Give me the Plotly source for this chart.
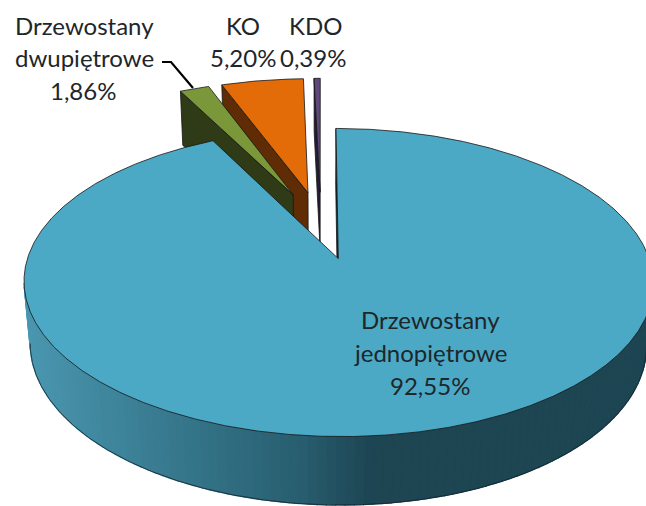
import numpy as np
import plotly.graph_objects as go

categories = ["Drzewostany jednopiętrowe", "Drzewostany dwupiętrowe", "KO", "KDO"]
values = [92.55, 1.86, 5.20, 0.39]
top_colors = ["#4BA9C5", "#7A983A", "#E36C09", "#5F497A"]
wall_colors = ["#14323C", "#2F3A16", "#5F2C05", "#241C38"]

# projection parameters of the tilted disc
W, H = 646, 506
CX, CY, A, B, K, DEPTH, M, EXPLODE = 321, 224.7, 300, 140, 0.15, 61.4, 0.02, 0.24


def project(u, v, bottom=False):
    w = 1 + K * v
    if bottom:
        w = w + M
        return CX + A * u / w, CY + (-B * v + DEPTH) / w
    return CX + A * u / w, CY - B * v / w


def side_color(x):
    xs = [20, 100, 200, 300, 372, 650]
    rgb = np.array([[76, 152, 178], [64, 135, 158], [52, 115, 135], [40, 94, 112], [29, 69, 82], [29, 69, 82]])
    return "rgb(%d,%d,%d)" % tuple(np.interp(x, xs, rgb[:, i]) for i in range(3))


def poly(fig, xs, ys, fill=None, line="#151515", lw=0.8):
    fig.add_trace(go.Scatter(
        x=list(xs), y=list(ys), mode="lines", hoverinfo="skip", showlegend=False,
        fill="toself" if fill else "none", fillcolor=fill,
        line=dict(color=line, width=lw),
    ))


fractions = np.array(values) / sum(values)
starts = np.concatenate([[0], np.cumsum(fractions)[:-1]]) * 2 * np.pi
ends = starts + fractions * 2 * np.pi

fig = go.Figure()


def slice_geo(i, n=160):
    mid = (starts[i] + ends[i]) / 2
    ox, oy = EXPLODE * np.sin(mid), EXPLODE * np.cos(mid)
    th = np.linspace(starts[i], ends[i], n)
    return ox, oy, th, ox + np.sin(th), oy + np.cos(th)


# back slices: purple, orange, green; then main slice in front
for i in [3, 2, 1]:
    ox, oy, th, u, v = slice_geo(i, 40)
    ax_t = project(ox, oy)
    ax_b = project(ox, oy, True)
    # left radial wall
    ot = project(u[0], v[0])
    ob = project(u[0], v[0], True)
    poly(fig, [ax_t[0], ot[0], ob[0], ax_b[0], ax_t[0]], [ax_t[1], ot[1], ob[1], ax_b[1], ax_t[1]], wall_colors[i])
    # top face
    tx, ty = project(u, v)
    poly(fig, [ax_t[0], *tx, ax_t[0]], [ax_t[1], *ty, ax_t[1]], top_colors[i])

# main slice
ox, oy, th, u, v = slice_geo(0, 900)
ax_t = project(ox, oy)
ax_b = project(ox, oy, True)
tx, ty = project(u, v)
bx, by = project(u, v, True)

# outer curved wall, strips coloured by horizontal position
front = np.arange(int(np.argmax(tx)), int(np.argmin(tx)) + 1)
step = 4
for j in range(front[0], front[-1] - step + 1, step):
    k = j + step
    col = side_color((tx[j] + tx[k]) / 2)
    poly(fig, [tx[j], tx[k], bx[k], bx[j], tx[j]], [ty[j], ty[k], by[k], by[j], ty[j]], col, col, 1.2)
# outline of lower edge
poly(fig, bx[front], by[front], None, "#10262E", 0.8)

# thin wall on the right radial cut
poly(fig, [ax_t[0], tx[0], bx[0], ax_b[0], ax_t[0]], [ax_t[1], ty[0], by[0], ax_b[1], ax_t[1]], wall_colors[0])
# top face
poly(fig, [ax_t[0], *tx, ax_t[0]], [ax_t[1], *ty, ax_t[1]], top_colors[0])


def pct(v):
    return f"{v:.2f}%".replace(".", ",")


labels = [
    ("Drzewostany", 430, 319), ("jednopiętrowe", 430, 352), (pct(values[0]), 430, 385),
    ("Drzewostany", 84, 25), ("dwupiętrowe", 84, 57), (pct(values[1]), 83, 90),
    ("KO", 243, 25), (pct(values[2]), 243, 57),
    ("KDO", 315, 25), (pct(values[3]), 313, 57),
]
for text, x, y in labels:
    fig.add_annotation(x=x, y=y, text=text, showarrow=False, xanchor="center", yanchor="middle",
                       font=dict(family="Lato", size=24, color="#1E262A"))

fig.add_shape(type="path", path="M 162 62 L 171 62 L 193 88", line=dict(color="#000000", width=2.2))

fig.update_layout(
    width=W, height=H, autosize=False, margin=dict(l=0, r=0, t=0, b=0),
    paper_bgcolor="white", plot_bgcolor="white", showlegend=False,
    xaxis=dict(range=[0, W], visible=False, fixedrange=True),
    yaxis=dict(range=[H, 0], visible=False, fixedrange=True),
)
fig.write_html("out.html", config=dict(displayModeBar=False),
               post_script="document.body.style.margin='0';document.body.style.overflow='hidden';")
